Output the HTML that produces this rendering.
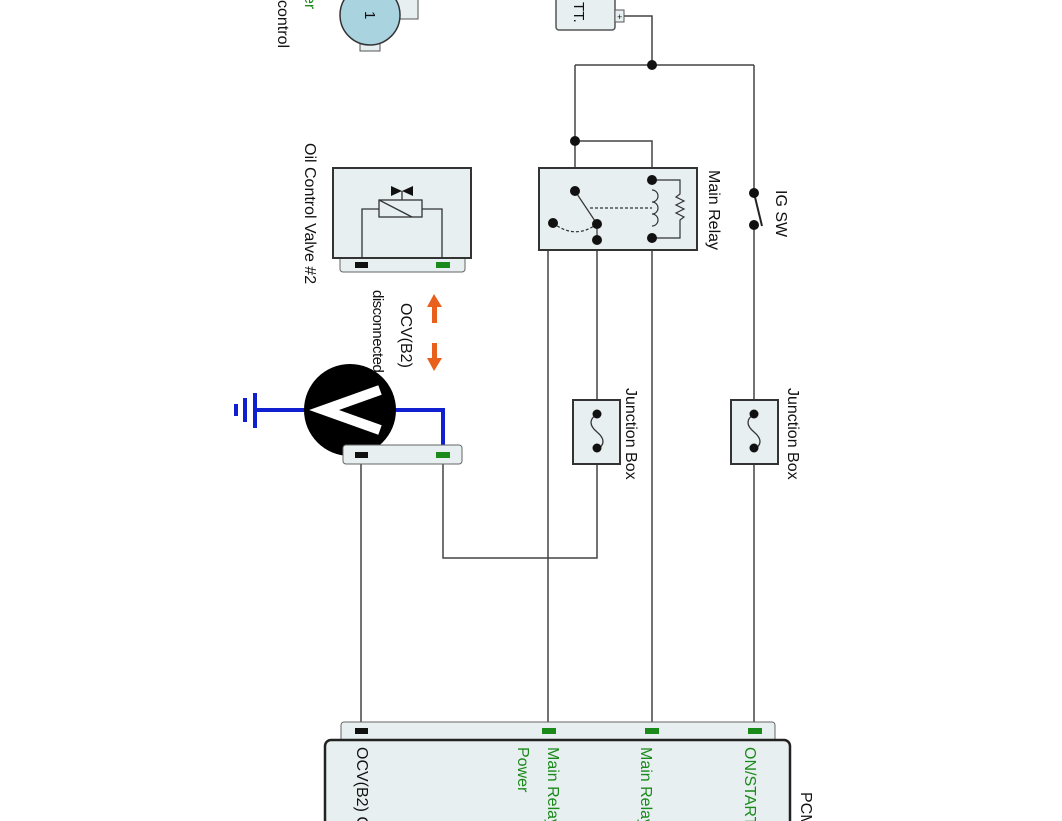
<!DOCTYPE html>
<html><head><meta charset="utf-8"><style>
html,body{margin:0;padding:0;background:#fff;width:1062px;height:821px;overflow:hidden}
svg{display:block}
text{font-family:"Liberation Sans",sans-serif;font-size:16px;fill:#111}
.g{fill:#1a8a1a}
</style></head><body>
<svg width="1062" height="821" viewBox="0 0 1062 821" xmlns="http://www.w3.org/2000/svg">
<g stroke="#444" stroke-width="1.5" fill="none">
<polyline points="622,16 652,16 652,65"/>
<line x1="575" y1="65" x2="754" y2="65"/>
<line x1="575" y1="65" x2="575" y2="191"/>
<polyline points="575,141 652,141 652,180"/>
<line x1="754" y1="65" x2="754" y2="193"/>
<line x1="754" y1="225" x2="754" y2="730"/>
<line x1="754" y1="193" x2="762" y2="226" stroke="#222" stroke-width="2"/>
<line x1="652" y1="238" x2="652" y2="730"/>
<polyline points="597,240 597,558 443,558 443,464"/>
<polyline points="597,240 548,240 548,730"/>
<line x1="361" y1="464" x2="361" y2="730"/>
</g>
<rect x="556" y="-5" width="59" height="35" rx="3" fill="#e8eff0" stroke="#555" stroke-width="1.5"/>
<rect x="615" y="10" width="9" height="12" fill="#e8eff0" stroke="#555"/>
<text x="617" y="20" style="font-size:9px">+</text>
<text transform="translate(574,2) rotate(90)" style="font-size:15px">TT.</text>
<rect x="385" y="-5" width="33" height="24" fill="#e8eff0" stroke="#555"/>
<rect x="360" y="38" width="20" height="13" fill="#e8eff0" stroke="#555"/>
<circle cx="370" cy="15" r="30" fill="#a9d3df" stroke="#333" stroke-width="1.5"/>
<text transform="translate(365,11) rotate(90)" style="font-size:15px">1</text>
<text transform="translate(278,0) rotate(90)" style="font-size:16px">control</text>
<text transform="translate(305,-5) rotate(90)" class="g" style="font-size:16px">er</text>
<rect x="539" y="168" width="158" height="82" fill="#e8eff0" stroke="#333" stroke-width="2"/>
<g stroke="#333" stroke-width="1.2" fill="none">
<line x1="575" y1="191" x2="597" y2="224"/>
<path d="M553,223 Q575,240 597,224" stroke-dasharray="3,2"/>
<line x1="590" y1="208" x2="652" y2="208" stroke-dasharray="3,2"/>
<path d="M652,190 a6,6 0 0 1 0,12 a6,6 0 0 1 0,12 a6,6 0 0 1 0,12"/>
<polyline points="652,180 680,180 680,194 676,197 684,201 676,205 684,209 676,213 684,217 680,220 680,238 652,238"/>
<line x1="597" y1="240" x2="597" y2="224"/>
</g>
<g fill="#111">
<circle cx="652" cy="65" r="5"/><circle cx="575" cy="141" r="5"/>
<circle cx="575" cy="191" r="5"/><circle cx="652" cy="180" r="5"/>
<circle cx="652" cy="238" r="5"/><circle cx="597" cy="224" r="5"/>
<circle cx="597" cy="240" r="5"/><circle cx="553" cy="223" r="5"/>
<circle cx="754" cy="193" r="5"/><circle cx="754" cy="225" r="5"/>
</g>
<text transform="translate(709,170) rotate(90)">Main Relay</text>
<text transform="translate(776,190) rotate(90)">IG SW</text>
<rect x="340" y="256" width="125" height="16" rx="3" fill="#e8eff0" stroke="#666"/>
<rect x="333" y="168" width="138" height="90" fill="#e8eff0" stroke="#333" stroke-width="2"/>
<rect x="355" y="262" width="13" height="6" fill="#111"/>
<rect x="436" y="262" width="14" height="6" fill="#1a8a1a"/>
<g stroke="#333" stroke-width="1.3" fill="none">
<polyline points="362,258 362,209 379,209"/>
<polyline points="422,209 442,209 442,258"/>
<rect x="379" y="200" width="43" height="17"/>
<line x1="379" y1="200" x2="412" y2="217"/>
<line x1="402" y1="200" x2="402" y2="191"/>
</g>
<polygon points="391,186 402,191 391,196" fill="#111"/>
<polygon points="413,186 402,191 413,196" fill="#111"/>
<text transform="translate(305,143) rotate(90)">Oil Control Valve #2</text>
<g fill="#e8601c">
<rect x="432" y="305" width="5" height="18"/><polygon points="427,307 434,294 442,307"/>
<rect x="432" y="343" width="5" height="17"/><polygon points="427,358 434,371 442,358"/>
</g>
<text transform="translate(401,303) rotate(90)">OCV(B2)</text>
<g stroke="#1020d0" stroke-width="4" fill="none">
<polyline points="395,410 443,410 443,455"/>
<line x1="255" y1="410" x2="305" y2="410"/>
<line x1="255" y1="393" x2="255" y2="428"/>
<line x1="245" y1="398" x2="245" y2="422"/>
<line x1="236" y1="404" x2="236" y2="416"/>
</g>
<circle cx="350" cy="410" r="46" fill="#000"/>
<polyline points="380,390 324,410 380,430" fill="none" stroke="#fff" stroke-width="10"/>
<text transform="translate(373,290) rotate(90)" style="font-size:15px;letter-spacing:-0.5px">disconnected</text>
<rect x="343" y="445" width="119" height="19" rx="3" fill="#e8eff0" stroke="#666"/>
<rect x="355" y="452" width="13" height="6" fill="#111"/>
<rect x="436" y="452" width="14" height="6" fill="#1a8a1a"/>
<g>
<rect x="573" y="400" width="47" height="64" fill="#e8eff0" stroke="#333" stroke-width="2"/>
<path d="M597,414 q-12,8 0,18 q12,10 0,18" fill="none" stroke="#333" stroke-width="1.3"/>
<circle cx="597" cy="414" r="4.5" fill="#111"/><circle cx="597" cy="448" r="4.5" fill="#111"/>
<rect x="731" y="400" width="47" height="64" fill="#e8eff0" stroke="#333" stroke-width="2"/>
<path d="M754,414 q-12,8 0,18 q12,10 0,18" fill="none" stroke="#333" stroke-width="1.3"/>
<circle cx="754" cy="414" r="4.5" fill="#111"/><circle cx="754" cy="448" r="4.5" fill="#111"/>
</g>
<text transform="translate(626,388) rotate(90)">Junction Box</text>
<text transform="translate(788,388) rotate(90)">Junction Box</text>
<rect x="341" y="722" width="434" height="24" rx="3" fill="#e8eff0" stroke="#666"/>
<rect x="325" y="740" width="465" height="100" rx="6" fill="#e8eff0" stroke="#222" stroke-width="2.5"/>
<rect x="355" y="728" width="13" height="6" fill="#111"/>
<rect x="542" y="728" width="14" height="6" fill="#1a8a1a"/>
<rect x="645" y="728" width="14" height="6" fill="#1a8a1a"/>
<rect x="748" y="728" width="14" height="6" fill="#1a8a1a"/>
<text transform="translate(357,747) rotate(90)">OCV(B2) C</text>
<text transform="translate(548,747) rotate(90)" class="g">Main Relay</text>
<text transform="translate(518,747) rotate(90)" class="g">Power</text>
<text transform="translate(641,747) rotate(90)" class="g">Main Relay</text>
<text transform="translate(745,747) rotate(90)" class="g">ON/START</text>
<text transform="translate(801,792) rotate(90)">PCM</text>
</svg>
</body></html>
